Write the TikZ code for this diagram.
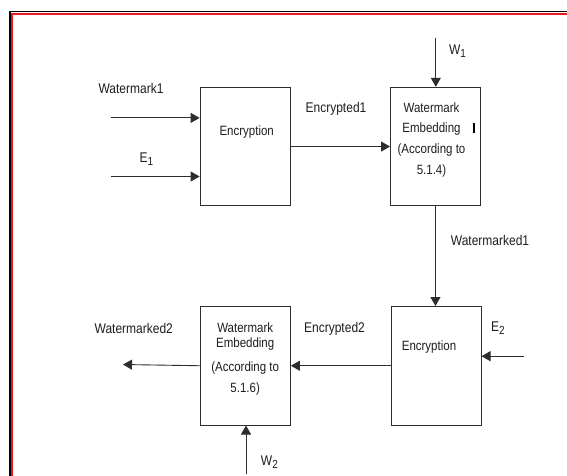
\documentclass[tikz,border=0pt]{standalone}
\usepackage{fontspec}
\setmainfont{Liberation Sans}
\usetikzlibrary{arrows.meta}
\definecolor{FrameRed}{RGB}{235,25,30}
\definecolor{LineGray}{RGB}{45,45,45}
\definecolor{TextGray}{RGB}{30,30,30}
\newcommand{\tl}[1]{\scalebox{1}[1.17]{#1}}
\newcommand{\subidx}[1]{\raisebox{-2.5pt}{\fontsize{10}{10}\selectfont #1}}
\begin{document}
\begin{tikzpicture}[x=1pt,y=-1pt,
    blk/.style={draw=LineGray, line width=0.9pt, minimum width=90pt, minimum height=118.6pt, inner sep=0pt, anchor=north west},
    lbl/.style={text=TextGray, font=\fontsize{12}{14}\selectfont, inner sep=0pt},
    boxtxt/.style={text=TextGray, font=\fontsize{11.5}{20.7}\selectfont, inner sep=0pt, align=center},
    sig/.style={-{Triangle[length=9pt,width=10pt]}, line width=0.9pt, LineGray}]
        \useasboundingbox (0,0) rectangle (567,476);
        \fill[white] (0,0) rectangle (567,476);
        % frame
        \draw[line width=1.8pt] (9.6,480) -- (9.6,11.6) -- (570,11.6);
        \draw[FrameRed, line width=1.8pt] (12,480) -- (12,14) -- (570,14);
        % blocks
        \node[blk] (enc1) at (199.6,86.8) {};
        \node[blk] (emb1) at (390,86.8) {};
        \node[blk] (enc2) at (390.6,306) {};
        \node[blk] (emb2) at (200,306) {};
        \node[boxtxt] (enc1txt) at (246.7,132) {\tl{Encryption}};
        \node[boxtxt] (emb1txt) at (431.5,139.6) {\tl{Watermark}\\\tl{Embedding}\\\tl{(According to}\\\tl{5.1.4)}};
        \node[boxtxt] (enc2txt) at (429,347) {\tl{Encryption}};
        \node[boxtxt] (emb2txt) at (245.2,358.6) {\tl{Watermark}\\[-5pt]\tl{Embedding}\\[3pt]\tl{(According to}\\\tl{5.1.6)}};
        \node[inner sep=0pt] (cursor) at (473.8,128.4) {\rule{1.6pt}{10pt}};
        % free ends
        \coordinate (wm1in) at (110.7,117.9);
        \coordinate (e1in) at (110.7,176.5);
        \coordinate (w1in) at (435.8,37.6);
        \coordinate (e2in) at (524.4,356.2);
        \coordinate (wm2out) at (123,364.5);
        \coordinate (w2in) at (246,473.8);
        % signals
        \draw[sig] (wm1in) -- (wm1in -| enc1.west);
        \draw[sig] (e1in) -- (e1in -| enc1.west);
        \draw[sig] (enc1.east) -- (emb1.west);
        \draw[sig] (w1in) -- (w1in |- emb1.north);
        \draw[sig] (emb1.south) -- (emb1.south |- enc2.north);
        \draw[sig] (e2in) -- (e2in -| enc2.east);
        \draw[sig] (enc2.west) -- (enc2.west -| emb2.east);
        \draw[sig] (emb2.west) -- (wm2out);
        \draw[sig] (w2in) -- (w2in |- emb2.south);
        % labels
        \node[lbl] (wm1lbl) at (131,88.6) {\tl{Watermark1}};
        \node[lbl] (e1lbl) at (146.5,159) {\tl{E\subidx{1}}};
        \node[lbl] (encd1lbl) at (336,108.5) {\tl{Encrypted1}};
        \node[lbl] (w1lbl) at (457.5,51.4) {\tl{W\subidx{1}}};
        \node[lbl] (wmd1lbl) at (490,240.5) {\tl{Watermarked1}};
        \node[lbl] (e2lbl) at (498,328) {\tl{E\subidx{2}}};
        \node[lbl] (encd2lbl) at (334.5,328.4) {\tl{Encrypted2}};
        \node[lbl] (wmd2lbl) at (133.8,328.4) {\tl{Watermarked2}};
        \node[lbl] (w2lbl) at (269.4,462.2) {\tl{W\subidx{2}}};
\end{tikzpicture}
\end{document}
